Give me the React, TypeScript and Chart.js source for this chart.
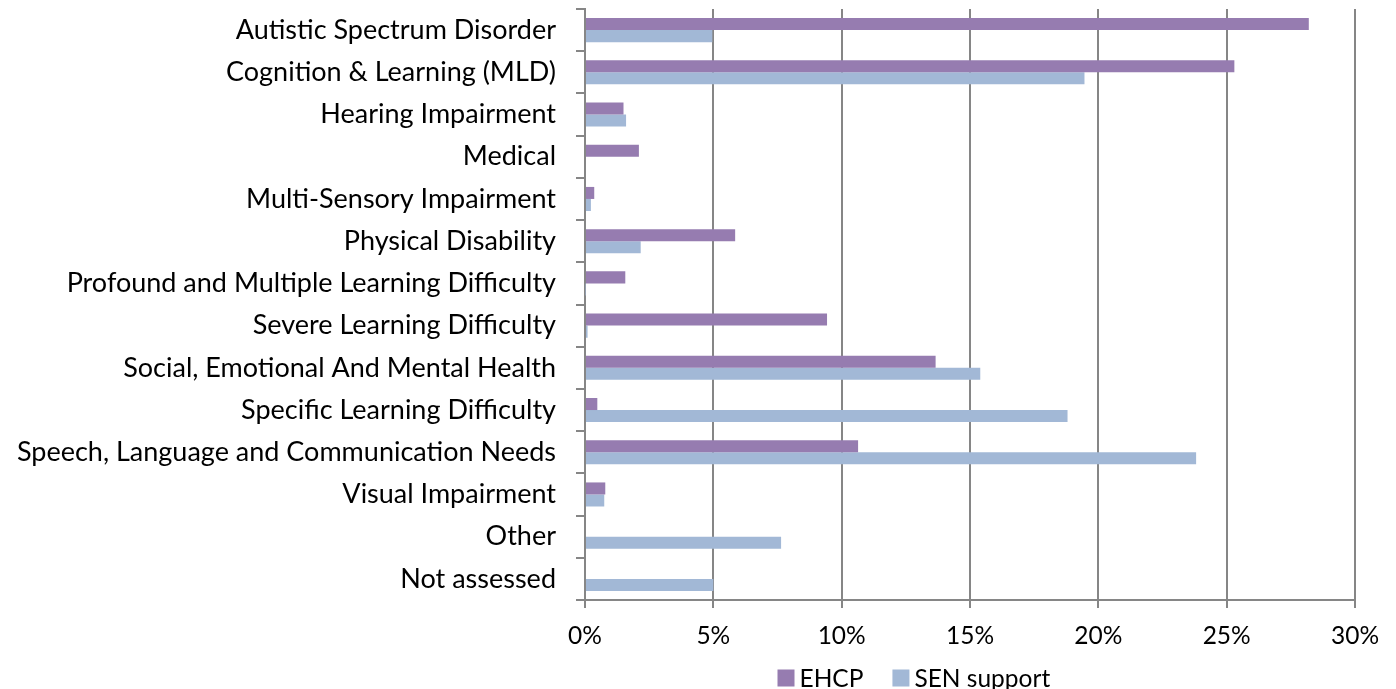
import React, { useEffect, useRef } from "react";
import { Chart, registerables } from "chart.js";

Chart.register(...registerables);

const categories = [
  "Autistic Spectrum Disorder",
  "Cognition & Learning (MLD)",
  "Hearing Impairment",
  "Medical",
  "Multi-Sensory Impairment",
  "Physical Disability",
  "Profound and Multiple Learning Difficulty",
  "Severe Learning Difficulty",
  "Social, Emotional And Mental Health",
  "Specific Learning Difficulty",
  "Speech, Language and Communication Needs",
  "Visual Impairment",
  "Other",
  "Not assessed",
];

const ehcp = [28.2, 25.3, 1.5, 2.1, 0.36, 5.85, 1.57, 9.43, 13.66, 0.48, 10.64, 0.79, 0, 0];
const senSupport = [4.96, 19.46, 1.6, 0, 0.23, 2.17, 0.02, 0.1, 15.4, 18.8, 23.81, 0.75, 7.64, 5.0];

const xTicks = [0, 5, 10, 15, 20, 25, 30];

const seriesColors = ["#967cb0", "#a2b8d6"];

const FONT = "Lato, 'Open Sans', sans-serif";
const GRID = "#868686";

const legendPlugin = {
  id: "customLegend",
  afterDraw(chart: any) {
    const { ctx, chartArea } = chart;
    const box = 17;
    const gap = 5;
    const spacing = 29;
    const yMid = 678;
    ctx.save();
    ctx.font = `24.5px ${FONT}`;
    ctx.textBaseline = "middle";
    ctx.textAlign = "left";
    let x = chartArea.left + (chartArea.right - chartArea.left) * 0.25;
    chart.data.datasets.forEach((ds: any) => {
      ctx.fillStyle = ds.backgroundColor;
      ctx.fillRect(x, yMid - box / 2, box, box);
      x += box + gap;
      ctx.fillStyle = "#000";
      ctx.fillText(ds.label, x, yMid + 1);
      x += ctx.measureText(ds.label).width + spacing;
    });
    ctx.restore();
  },
};

export default function App() {
  const ref = useRef<HTMLCanvasElement>(null);

  useEffect(() => {
    document.body.style.margin = "0";
    const ctx = ref.current!;
    const chart = new Chart(ctx, {
      type: "bar",
      data: {
        labels: categories,
        datasets: [
          {
            label: "EHCP",
            data: ehcp,
            backgroundColor: seriesColors[0],
            borderWidth: 0,
            categoryPercentage: 0.57,
            barPercentage: 1,
          },
          {
            label: "SEN support",
            data: senSupport,
            backgroundColor: seriesColors[1],
            borderWidth: 0,
            categoryPercentage: 0.57,
            barPercentage: 1,
          },
        ],
      },
      plugins: [legendPlugin],
      options: {
        indexAxis: "y",
        animation: false,
        responsive: false,
        maintainAspectRatio: false,
        layout: { padding: { top: 9, right: 41, left: 0, bottom: 39 } },
        plugins: {
          tooltip: { enabled: false },
          legend: { display: false },
        },
        scales: {
          x: {
            min: 0,
            max: 30,
            afterBuildTicks: (scale: any) => {
              scale.ticks = xTicks.map((v) => ({ value: v }));
            },
            afterFit: (scale: any) => {
              scale.height = 50;
              scale.paddingLeft = 0;
              scale.paddingRight = 0;
            },
            ticks: {
              callback: (v: any) => v + "%",
              font: { family: FONT, size: 24.5 },
              color: "#000",
              padding: 13,
              maxRotation: 0,
            },
            grid: {
              color: GRID,
              lineWidth: 2,
              drawTicks: true,
              tickLength: 8,
            },
            border: { color: GRID, width: 2 },
          },
          y: {
            afterFit: (scale: any) => {
              scale.width = 585;
              scale.paddingTop = 0;
              scale.paddingBottom = 0;
            },
            ticks: {
              font: { family: FONT, size: 27 },
              color: "#000",
              padding: 20,
              autoSkip: false,
            },
            grid: {
              color: GRID,
              lineWidth: 2,
              drawOnChartArea: false,
              drawTicks: true,
              tickLength: 9,
              offset: true,
            },
            border: { color: GRID, width: 2 },
          },
        },
      },
    } as any);
    return () => chart.destroy();
  }, []);

  return (
    <div style={{ width: 1396, height: 689, position: "relative" }}>
      <canvas ref={ref} width={1396} height={689} style={{ width: 1396, height: 689, display: "block" }} />
    </div>
  );
}
